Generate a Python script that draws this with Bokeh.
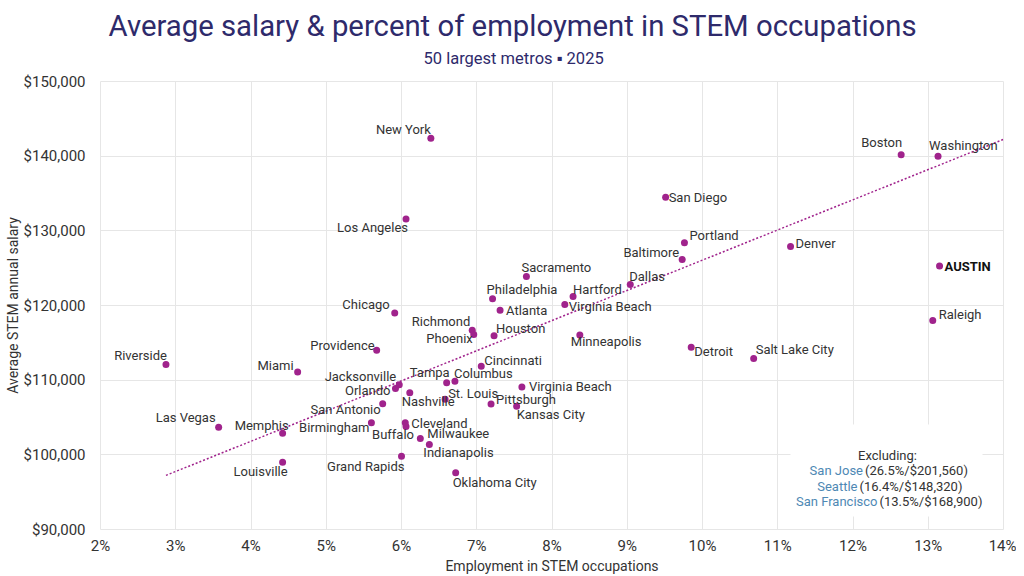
from bokeh.plotting import figure
from bokeh.models import Label, BoxAnnotation, FixedTicker, ColumnDataSource, Range1d, Title
from bokeh.core.properties import value
from bokeh.embed import file_html
from bokeh.resources import INLINE

# ---------------- data ----------------
metros = ["Riverside", "Las Vegas", "Memphis", "Louisville", "Miami", "Providence", "Chicago",
          "Jacksonville", "Orlando", "Nashville", "San Antonio", "Birmingham", "Cleveland", "Buffalo",
          "Milwaukee", "Indianapolis", "Grand Rapids", "Oklahoma City", "Richmond", "Phoenix", "Houston",
          "Minneapolis", "Cincinnati", "Tampa", "Columbus", "St. Louis", "Pittsburgh", "Virginia Beach",
          "Kansas City", "New York", "Los Angeles", "Sacramento", "Philadelphia", "Atlanta", "Hartford",
          "Virginia Beach", "Dallas", "San Diego", "Portland", "Baltimore", "Denver", "Boston",
          "Washington", "AUSTIN", "Raleigh", "Detroit", "Salt Lake City"]
stem_share = [2.87, 3.57, 4.42, 4.42, 4.62, 5.67, 5.91,
              5.97, 5.92, 6.11, 5.75, 5.60, 6.05, 6.06,
              6.25, 6.37, 6.00, 6.72, 6.94, 6.96, 7.23,
              8.37, 7.06, 6.60, 6.71, 6.58, 7.19, 7.60,
              7.53, 6.39, 6.06, 7.66, 7.21, 7.31, 8.28,
              8.17, 9.04, 9.51, 9.76, 9.73, 11.17, 12.64,
              13.13, 13.15, 13.06, 9.85, 10.68]
avg_salary = [112100, 103700, 102900, 99000, 111100, 114000, 119000,
              109400, 108900, 108300, 106850, 104300, 104300, 103800,
              102200, 101400, 99800, 97600, 116700, 116100, 115950,
              116050, 111850, 109650, 109850, 107450, 106800, 109100,
              106500, 142400, 131600, 123900, 120900, 119350, 121200,
              120150, 122800, 134500, 128400, 126150, 127900, 140200,
              140000, 125300, 118000, 114400, 112900]

trend_x = [2.87, 14.0]
trend_y = [97250, 142250]

x_ticks = [2, 3, 4, 5, 6, 7, 8, 9, 10, 11, 12, 13, 14]
x_tick_labels = ["2%", "3%", "4%", "5%", "6%", "7%", "8%", "9%", "10%", "11%", "12%", "13%", "14%"]
y_ticks = [90000, 100000, 110000, 120000, 130000, 140000, 150000]
y_tick_labels = ["$90,000", "$100,000", "$110,000", "$120,000", "$130,000", "$140,000", "$150,000"]

excluded_metros = ["San Jose", "Seattle", "San Francisco"]
excluded_share = ["26.5", "16.4", "13.5"]
excluded_salary = ["$201,560", "$148,320", "$168,900"]

# ---------------- label placement (screen px relative to dot) ----------------
label_dx = [1, -3, 6, 5, -4, -2, -5,
            -3, -5, -8, -2, -2, 6, 8,
            7, -6, 3, -3, -2, -1, 2,
            -9, 3, 3, -1, 3, 5, 7,
            0, 0, 2, -5, -6, 6, 0,
            4, -1, 3, 5, -3, 5, 1,
            -9, 5, 6, 3, 2]
label_dy = [-9, -10, -8, 9, -6, -5, -8,
            -8, 2, 9, 6, 5, 1, 8,
            -5, 8, 10, 10, -9, 4, -7,
            7, -6, -10, -8, -6, -5, 0,
            8, -9, 9, -9, -9, 0, -7,
            2, -8, 0, -7, -7, -3, -12,
            -11, 1, -6, 4, -9]
label_align = ["right", "right", "right", "right", "right", "right", "right",
               "right", "right", "left", "right", "right", "left", "right",
               "left", "left", "right", "left", "right", "right", "left",
               "left", "left", "right", "left", "left", "left", "left",
               "left", "right", "right", "left", "left", "left", "left",
               "left", "left", "left", "left", "right", "left", "right",
               "left", "left", "left", "left", "left"]

# ---------------- geometry ----------------
X0, X1 = 2, 14
Y0, Y1 = 90000, 150000
FL, FT, FW, FH = 100, 81, 903, 448   # frame position / size in canvas px

def px_x(px):  # canvas px -> data x
    return X0 + (px - FL) / FW * (X1 - X0)

def px_y(py):  # canvas px -> data y
    return Y1 - (py - FT) / FH * (Y1 - Y0)

sx = (X1 - X0) / FW
sy = (Y1 - Y0) / FH

NAVY = "#2E2A6B"
MAGENTA = "#A0238C"
TXT = "#333333"
BLUE = "#4E88B4"
GRID = "#E6E6E6"
FONT = "Roboto"

p = figure(frame_width=FW, frame_height=FH, min_border_left=FL, min_border_top=FT,
           min_border_right=13, min_border_bottom=0,
           x_range=Range1d(X0, X1), y_range=Range1d(Y0, Y1),
           output_backend="svg", toolbar_location=None,
           background_fill_color="white", border_fill_color="white")
p.outline_line_color = GRID

# titles (stacked above the frame: first added is nearest the frame; offsets from frame left)
p.add_layout(Title(text="50 largest metros \u25AA 2025", align="left", offset=423 - FL, standoff=28,
                   text_font=FONT, text_font_size="16.5px", text_font_style="normal",
                   text_color=NAVY), "above")
p.add_layout(Title(text="Average salary & percent of employment in STEM occupations", align="left",
                   offset=108 - FL, standoff=-20, text_font=FONT, text_font_size="29.3px",
                   text_font_style="normal", text_color=NAVY), "above")

# axes
p.xaxis.ticker = FixedTicker(ticks=x_ticks)
p.yaxis.ticker = FixedTicker(ticks=y_ticks)
p.xaxis.major_label_overrides = dict(zip(x_ticks, x_tick_labels))
p.yaxis.major_label_overrides = dict(zip(y_ticks, y_tick_labels))
for ax in (p.xaxis[0], p.yaxis[0]):
    ax.axis_line_color = None
    ax.major_tick_line_color = None
    ax.minor_tick_line_color = None
    ax.major_tick_out = 0
    ax.major_tick_in = 0
    ax.major_label_text_font = FONT
    ax.major_label_text_font_size = "15px"
    ax.major_label_text_color = TXT
    ax.axis_label_text_font = FONT
    ax.axis_label_text_font_size = "14px"
    ax.axis_label_text_font_style = "normal"
    ax.axis_label_text_color = TXT
    ax.axis_label_standoff = 0
p.xaxis.major_label_standoff = 7
p.yaxis.major_label_standoff = 15
p.yaxis.axis_label = "Average STEM annual salary"
p.xaxis.axis_label = "Employment in STEM occupations"

p.xgrid.grid_line_color = GRID
p.ygrid.grid_line_color = GRID

# trend line
p.line(trend_x, trend_y, line_color=MAGENTA, line_width=1.5, line_dash="2 2")

# points
p.scatter(stem_share, avg_salary, size=7, fill_color=MAGENTA, line_color=None)

# point labels
groups = {"left": dict(x=[], y=[], t=[]), "right": dict(x=[], y=[], t=[])}
bold = dict(x=[], y=[], t=[])
for name, xv, yv, dx, dy, al in zip(metros, stem_share, avg_salary, label_dx, label_dy, label_align):
    g = bold if name == "AUSTIN" else groups[al]
    g["x"].append(xv + dx * sx)
    g["y"].append(yv - dy * sy)
    g["t"].append(name)
for al, g in groups.items():
    p.text(x="x", y="y", text="t", source=ColumnDataSource(g), text_align=al,
           text_baseline="middle", text_font=value(FONT), text_font_size="13px", text_color=TXT)
p.text(x="x", y="y", text="t", source=ColumnDataSource(bold), text_align="left",
       text_baseline="middle", text_font=value(FONT), text_font_size="13px",
       text_font_style="bold", text_color="#111111")

# excluded box
p.add_layout(BoxAnnotation(left=px_x(790), right=px_x(982), top=px_y(424), bottom=px_y(516),
                           fill_color="white", fill_alpha=1.0, line_color=None))
p.add_layout(Label(x=px_x(887), y=px_y(455), text="Excluding:", text_align="center",
                   text_baseline="middle", text_font=FONT, text_font_size="13px", text_color=TXT))
split_px = [863.5, 858, 878]
line_py = [470, 485.5, 501]
for nm, sh, sal, spx, lpy in zip(excluded_metros, excluded_share, excluded_salary, split_px, line_py):
    p.add_layout(Label(x=px_x(spx - 1), y=px_y(lpy), text=nm, text_align="right",
                       text_baseline="middle", text_font=FONT, text_font_size="13px", text_color=BLUE))
    p.add_layout(Label(x=px_x(spx + 1), y=px_y(lpy), text=f"({sh}%/{sal})", text_align="left",
                       text_baseline="middle", text_font=FONT, text_font_size="13px", text_color=TXT))

open("out.html", "w").write(file_html(p, INLINE))
